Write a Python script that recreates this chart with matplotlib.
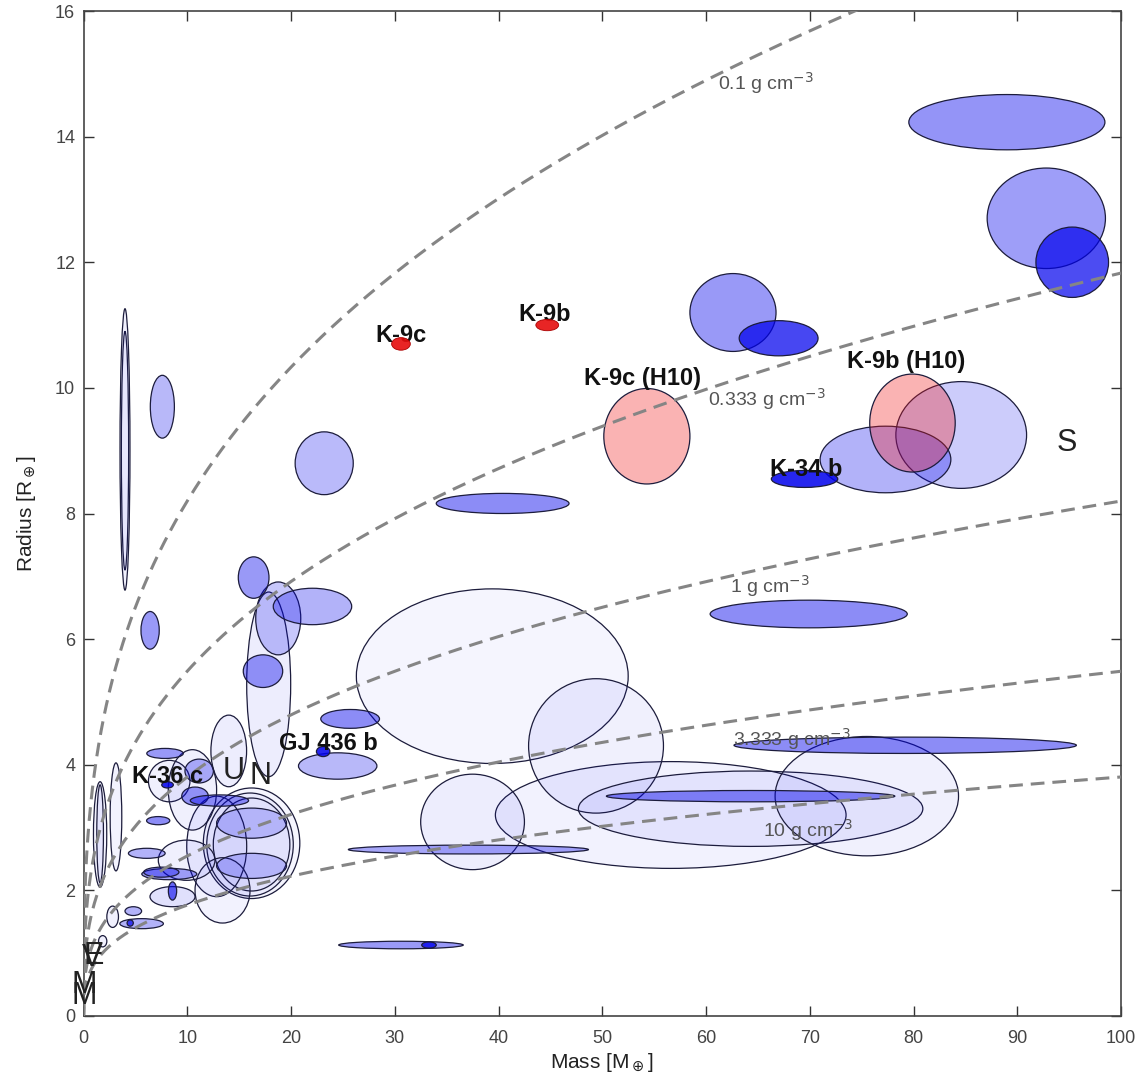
import numpy as np
import matplotlib
matplotlib.use("Agg")
import matplotlib.pyplot as plt
from matplotlib.patches import Ellipse

# ---------------- data ----------------
# Known transiting planets: mass [M_earth], radius [R_earth], half-widths of the error ellipses
planet_mass = [89.0, 92.8, 95.3, 62.6, 67.0, 84.6, 77.3, 69.5, 23.2, 40.4,
               4.0, 4.0, 7.6, 6.42, 16.4, 18.77, 22.07, 17.3, 17.85, 25.7,
               24.5, 23.1, 14.0, 39.4, 49.4, 37.5, 37.1, 56.6, 64.3, 75.5,
               64.3, 79.2, 69.9, 30.6, 33.3,
               7.86, 8.26, 8.1, 11.15, 10.5, 10.75, 13.1, 7.2, 6.1, 8.27,
               7.5, 8.58, 8.58, 9.94, 12.84, 13.4, 16.2, 16.05, 16.2, 16.2,
               16.2, 1.6, 1.6, 3.13, 2.81, 4.8, 5.6, 4.5, 1.85]
planet_radius = [14.23, 12.7, 12.0, 11.2, 10.79, 9.25, 8.86, 8.55, 8.8, 8.16,
                 9.02, 9.0, 9.7, 6.14, 6.98, 6.33, 6.52, 5.49, 5.28, 4.73,
                 3.98, 4.21, 4.22, 5.41, 4.3, 3.09, 2.65, 3.2, 3.3, 3.5,
                 3.5, 4.31, 6.4, 1.13, 1.13,
                 4.18, 3.74, 3.68, 3.9, 3.6, 3.5, 3.43, 3.11, 2.59, 2.26,
                 2.29, 1.9, 1.99, 2.48, 2.7, 2.0, 2.75, 2.73, 2.73, 3.07,
                 2.39, 2.89, 2.9, 3.17, 1.58, 1.67, 1.47, 1.48, 1.19]
mass_err = [9.45, 5.7, 3.5, 4.15, 3.8, 6.3, 6.3, 3.2, 2.8, 6.4,
            0.48, 0.35, 1.16, 0.88, 1.48, 2.17, 3.78, 1.9, 2.12, 2.83,
            3.78, 0.65, 1.72, 13.1, 6.5, 5.0, 11.57, 16.9, 16.6, 8.84,
            13.9, 16.5, 9.5, 6.0, 0.7,
            1.76, 2.0, 0.56, 1.37, 2.33, 1.28, 2.81, 1.12, 1.77, 2.65,
            1.7, 2.17, 0.4, 2.73, 2.89, 2.65, 4.65, 4.17, 3.69, 3.37,
            3.37, 0.64, 0.32, 0.56, 0.56, 0.8, 2.1, 0.3, 0.4]
radius_err = [0.44, 0.8, 0.56, 0.62, 0.28, 0.85, 0.53, 0.135, 0.5, 0.16,
              2.24, 1.9, 0.5, 0.3, 0.33, 0.58, 0.29, 0.26, 1.47, 0.15,
              0.21, 0.08, 0.57, 1.39, 1.07, 0.76, 0.07, 0.85, 0.6, 0.95,
              0.09, 0.13, 0.22, 0.06, 0.05,
              0.08, 0.33, 0.05, 0.19, 0.64, 0.145, 0.09, 0.065, 0.08, 0.09,
              0.08, 0.16, 0.145, 0.32, 0.8, 0.52, 0.88, 0.82, 0.74, 0.24,
              0.2, 0.84, 0.78, 0.86, 0.17, 0.07, 0.08, 0.05, 0.09]

# Kepler-9 b/c (this work) and Holman et al. 2010 (H10)
k9_mass = [30.6, 44.7]
k9_radius = [10.7, 11.0]
k9_mass_err = [0.9, 1.1]
k9_radius_err = [0.1, 0.09]
h10_mass = [54.3, 79.9]
h10_radius = [9.23, 9.44]
h10_mass_err = [4.15, 4.12]
h10_radius_err = [0.76, 0.78]

# iso-density curves [g cm^-3]
densities = [0.1, 0.333, 1.0, 3.333, 10.0]
density_labels = ["0.1 g cm$^{-3}$", "0.333 g cm$^{-3}$", "1 g cm$^{-3}$",
                  "3.333 g cm$^{-3}$", "10 g cm$^{-3}$"]
density_label_mass = [61.2, 60.2, 62.3, 62.6, 65.5]
density_label_radius = [14.85, 9.82, 6.85, 4.41, 2.96]

# Solar-system planets
solar_names = ["M", "M", "V", "E", "U", "N", "S"]
solar_mass = [0.06, 0.11, 0.8, 1.0, 14.5, 17.1, 94.8]
solar_radius = [0.32, 0.5, 0.93, 0.95, 3.9, 3.82, 9.12]

# Named planets
named_labels = ["K-9c", "K-9b", "K-9c (H10)", "K-9b (H10)", "K-34 b", "GJ 436 b", "K-36 c"]
named_mass = [28.1, 41.9, 48.2, 73.6, 66.2, 18.8, 4.64]
named_radius = [10.83, 11.17, 10.15, 10.42, 8.70, 4.34, 3.81]

EARTH_DENSITY = 5.51

# ---------------- styles ----------------
fill_alpha = [0.42, 0.38, 0.7, 0.4, 0.72, 0.2, 0.3, 0.85, 0.27, 0.45,
              0.06, 0.04, 0.28, 0.4, 0.4, 0.22, 0.3, 0.4, 0.07, 0.45,
              0.28, 0.85, 0.07, 0.04, 0.06, 0.07, 0.35, 0.05, 0.06, 0.06,
              0.45, 0.45, 0.45, 0.4, 0.8,
              0.4, 0.06, 0.85, 0.3, 0.06, 0.4, 0.4, 0.45, 0.3, 0.35,
              0.35, 0.12, 0.6, 0.06, 0.05, 0.05, 0.04, 0.04, 0.04, 0.2,
              0.2, 0.05, 0.05, 0.05, 0.06, 0.3, 0.3, 0.7, 0.06]

fig = plt.figure(figsize=(11.4, 10.75), dpi=100)
ax = fig.add_axes([83.5 / 1140, 1 - 1016 / 1075, (1121 - 83.5) / 1140, (1016 - 11) / 1075])

edge = "#1c1c3c"
blue = (0.0, 0.0, 0.93)

order = np.argsort(fill_alpha, kind="stable")
for i in order:
    e = Ellipse((planet_mass[i], planet_radius[i]), 2 * mass_err[i], 2 * radius_err[i],
                facecolor=(*blue, fill_alpha[i]), edgecolor=edge, linewidth=0.9, zorder=2)
    ax.add_patch(e)

for m, r, dm, dr in zip(h10_mass, h10_radius, h10_mass_err, h10_radius_err):
    ax.add_patch(Ellipse((m, r), 2 * dm, 2 * dr, facecolor=(0.95, 0.1, 0.1, 0.33),
                         edgecolor=edge, linewidth=0.9, zorder=3))

mgrid = np.linspace(0, 100, 2000)
for rho in densities:
    rad = (mgrid * EARTH_DENSITY / rho) ** (1 / 3)
    ax.plot(mgrid, rad, color="#858585", linewidth=2.2,
            linestyle=(0, (4.5, 2.6)), zorder=4)

for t, m, r in zip(density_labels, density_label_mass, density_label_radius):
    ax.text(m, r, t, fontsize=14, color="#555555", ha="left", va="center",
            family=["Liberation Sans", "DejaVu Sans"], zorder=5)

for t, m, r in zip(solar_names, solar_mass, solar_radius):
    ax.text(m, r, t, fontsize=22, color="#222222", ha="center", va="center",
            family=["Liberation Sans", "DejaVu Sans"], zorder=5)

for t, m, r in zip(named_labels, named_mass, named_radius):
    ax.text(m, r, t, fontsize=17, fontweight="bold", color="#111111",
            ha="left", va="center", family=["Liberation Sans", "DejaVu Sans"], zorder=6)

# Kepler-9 red ellipses drawn over their labels, as in the original
for m, r, dm, dr in zip(k9_mass, k9_radius, k9_mass_err, k9_radius_err):
    ax.add_patch(Ellipse((m, r), 2 * dm, 2 * dr, facecolor=(0.9, 0.05, 0.05, 0.9),
                         edgecolor="#aa0000", linewidth=0.6, zorder=7))

ax.set_xlim(0, 100)
ax.set_ylim(0, 16)
ax.set_xticks(np.arange(0, 101, 10))
ax.set_yticks(np.arange(0, 17, 2))
ax.tick_params(direction="in", length=7, width=1, top=True, right=True,
               labelsize=13, colors="#333333")
ax.tick_params(axis="x", pad=10)
ax.tick_params(axis="y", pad=6)
for lab in ax.get_xticklabels() + ax.get_yticklabels():
    lab.set_family(["Liberation Sans Narrow", "Liberation Sans"])
    lab.set_color("#444444")
for s in ax.spines.values():
    s.set_color("#444444")
    s.set_linewidth(1.2)

ax.set_xlabel("Mass [M$_\\oplus$]", fontsize=15, family=["Liberation Sans Narrow", "Liberation Sans"],
              labelpad=3, color="#222222")
ax.set_ylabel("Radius [R$_\\oplus$]", fontsize=15, family=["Liberation Sans Narrow", "Liberation Sans"],
              labelpad=12, color="#222222")

fig.savefig("out.png", dpi=100)
